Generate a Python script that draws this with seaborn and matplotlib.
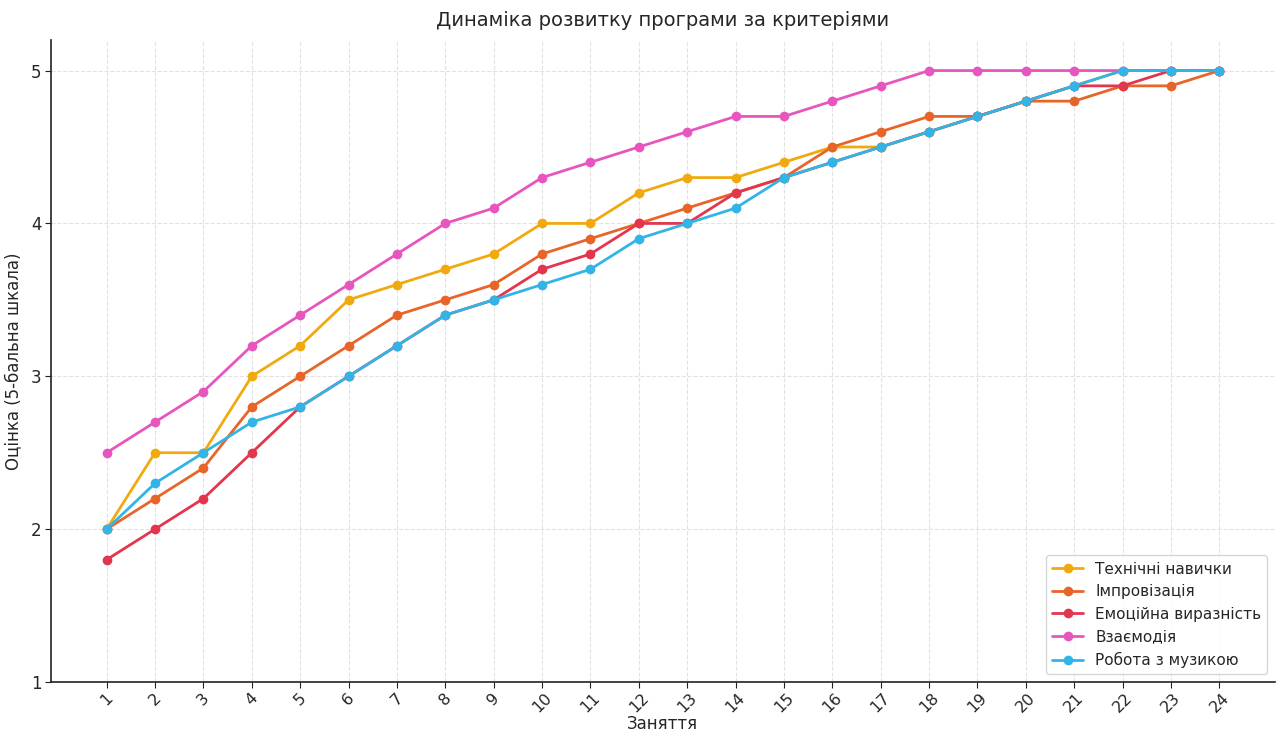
import matplotlib
matplotlib.use("Agg")
import matplotlib.pyplot as plt
import seaborn as sns
import pandas as pd

sessions = list(range(1, 25))

technical = [2.0, 2.5, 2.5, 3.0, 3.2, 3.5, 3.6, 3.7, 3.8, 4.0, 4.0, 4.2,
             4.3, 4.3, 4.4, 4.5, 4.5, 4.6, 4.7, 4.8, 4.9, 5.0, 5.0, 5.0]
improvisation = [2.0, 2.2, 2.4, 2.8, 3.0, 3.2, 3.4, 3.5, 3.6, 3.8, 3.9, 4.0,
                 4.1, 4.2, 4.3, 4.5, 4.6, 4.7, 4.7, 4.8, 4.8, 4.9, 4.9, 5.0]
emotional = [1.8, 2.0, 2.2, 2.5, 2.8, 3.0, 3.2, 3.4, 3.5, 3.7, 3.8, 4.0,
             4.0, 4.2, 4.3, 4.4, 4.5, 4.6, 4.7, 4.8, 4.9, 4.9, 5.0, 5.0]
interaction = [2.5, 2.7, 2.9, 3.2, 3.4, 3.6, 3.8, 4.0, 4.1, 4.3, 4.4, 4.5,
               4.6, 4.7, 4.7, 4.8, 4.9, 5.0, 5.0, 5.0, 5.0, 5.0, 5.0, 5.0]
music = [2.0, 2.3, 2.5, 2.7, 2.8, 3.0, 3.2, 3.4, 3.5, 3.6, 3.7, 3.9,
         4.0, 4.1, 4.3, 4.4, 4.5, 4.6, 4.7, 4.8, 4.9, 5.0, 5.0, 5.0]

series_names = ["Технічні навички", "Імпровізація", "Емоційна виразність",
                "Взаємодія", "Робота з музикою"]
series_values = [technical, improvisation, emotional, interaction, music]
colors = ["#F0AA0F", "#E8652A", "#E2364F", "#E656BE", "#33B4E6"]

rows = []
for name, vals in zip(series_names, series_values):
    for s, v in zip(sessions, vals):
        rows.append({"Заняття": s, "Оцінка": v, "Критерій": name})
df = pd.DataFrame(rows)

sns.set_style("white")
plt.rcParams["font.family"] = ["DejaVu Sans"]

fig = plt.figure(figsize=(12.81, 7.36), dpi=100)
ax = fig.add_axes([51 / 1281, 1 - 682 / 736, (1275 - 51) / 1281, (682 - 40) / 736])

sns.lineplot(data=df, x="Заняття", y="Оцінка", hue="Критерій",
             hue_order=series_names, palette=colors, marker="o",
             markersize=7, markeredgewidth=0, linewidth=2, ax=ax)

ax.set_ylim(1, 5.2)
ax.set_xticks(sessions)
ax.set_xticklabels([str(s) for s in sessions], rotation=45, fontsize=11.5)
ax.set_yticks([1, 2, 3, 4, 5])
ax.set_yticklabels(["1", "2", "3", "4", "5"], fontsize=12)
ax.grid(True, linestyle="--", color="#e2e2e2", linewidth=0.8)
ax.set_axisbelow(True)
for sp in ["top", "right"]:
    ax.spines[sp].set_visible(False)
for sp in ["left", "bottom"]:
    ax.spines[sp].set_color("#222222")
    ax.spines[sp].set_linewidth(1.2)
ax.tick_params(axis="x", which="both", bottom=True, length=4, pad=2, color="#222222")
ax.tick_params(axis="y", which="both", left=True, length=4, pad=3, color="#222222")

ax.set_title("Динаміка розвитку програми за критеріями", fontsize=14, pad=10)
ax.set_xlabel("Заняття", fontsize=12, labelpad=0)
ax.set_ylabel("Оцінка (5-бальна шкала)", fontsize=12, labelpad=6)

leg = ax.legend(loc="lower right", fontsize=11, frameon=True, title=None)

fig.savefig("out.png", dpi=100)
